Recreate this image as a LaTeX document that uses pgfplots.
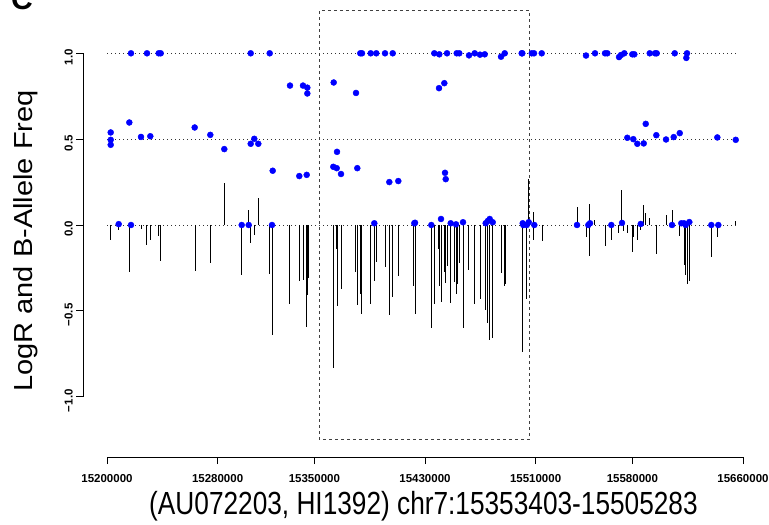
\documentclass[border=0pt]{standalone}
\usepackage{pgfplots}
\pgfplotsset{compat=1.18}
\usepackage{fontspec}
\setmainfont{Liberation Sans}
\begin{document}
\begin{tikzpicture}[x=1pt,y=1pt]
\useasboundingbox (0,0) rectangle (769,525);
\begin{axis}[
  at={(107pt,128.3pt)}, anchor=south west,
  scale only axis, width=636pt, height=343.4pt,
  xmin=15200000, xmax=15660000, ymin=-1, ymax=1,
  clip=false,
  separate axis lines,
  axis x line*=bottom, axis y line*=left,
  axis x line shift=60.3pt, axis y line shift=23.7pt,
  axis line style={line width=0.8pt, black, -},
  tick align=outside, major tick length=7pt,
  every tick/.style={black, line width=0.8pt},
  scaled x ticks=false, scaled y ticks=false,
  xtick={15200000,15280000,15350000,15430000,15510000,15580000,15660000},
  xticklabels={15200000,15280000,15350000,15430000,15510000,15580000,15660000},
  ytick={-1,-0.5,0,0.5,1},
  yticklabels={−1.0,−0.5,0.0,0.5,1.0},
  xticklabel style={font=\fontsize{11.5}{12}\selectfont\bfseries, yshift=-7pt},
  yticklabel style={font=\fontsize{11.5}{12}\selectfont\bfseries, rotate=90, anchor=south, xshift=-4pt},
]
% dotted reference lines
\addplot[black!80, line width=0.7pt, dash pattern=on 1pt off 3pt] coordinates {(15200000,1) (15656000,1)};
\addplot[black!80, line width=0.7pt, dash pattern=on 1pt off 3pt] coordinates {(15200000,0.5) (15656000,0.5)};
\addplot[black!80, line width=0.7pt, dash pattern=on 1pt off 3pt] coordinates {(15200000,0) (15656000,0)};
% LogR
\addplot[ycomb, black, line width=0.8pt] coordinates {
(15202680,-0.089) (15208460,-0.029) (15216130,-0.275) (15224810,-0.023) (15228720,-0.118)
(15231320,-0.089) (15237110,-0.062) (15238840,-0.207) (15263650,-0.267) (15274720,-0.221)
(15284840,0.246) (15297430,-0.293) (15302490,0.085) (15303940,-0.107) (15306540,-0.058)
(15309440,0.157) (15317680,-0.285) (15319340,-0.641) (15319850,-0.382) (15332150,-0.463)
(15339090,-0.326) (15341770,-0.322) (15344150,-0.595) (15345170,-0.407) (15345600,-0.306)
(15363680,-0.833) (15363970,-0.545) (15366140,-0.138) (15366360,-0.469) (15369250,-0.374)
(15379890,-0.275) (15381040,-0.465) (15383000,-0.399) (15384220,-0.516) (15390730,-0.458)
(15393340,-0.324) (15394780,-0.213) (15401080,-0.242) (15404190,-0.523) (15406650,-0.417)
(15410700,-0.295) (15421840,-0.355) (15422780,-0.517) (15434570,-0.597) (15436740,-0.461)
(15439920,-0.141) (15440350,-0.353) (15441580,-0.446) (15443970,-0.275) (15444690,-0.339)
(15445920,-0.238) (15448600,-0.455) (15451200,-0.333) (15452430,-0.401) (15453160,-0.341)
(15455110,-0.223) (15457490,-0.601) (15461620,-0.262) (15465960,-0.458) (15470010,-0.430)
(15473410,-0.223) (15473910,-0.494) (15475070,-0.568) (15476300,-0.669) (15478690,-0.661)
(15485200,-0.281) (15487660,-0.355) (15488090,-0.343) (15500170,-0.740) (15500680,-0.591)
(15503570,-0.432) (15505020,0.267) (15508490,0.077) (15508700,-0.087) (15514640,-0.095)
(15539950,0.103) (15546680,-0.072) (15548850,0.122) (15549050,-0.178) (15552750,0.029)
(15560200,-0.120) (15564540,-0.087) (15570110,-0.048) (15572280,0.203) (15573440,-0.035)
(15576620,-0.048) (15579730,-0.159) (15580950,-0.068) (15583570,-0.089) (15585520,-0.029)
(15588200,0.114) (15589640,0.070) (15592540,0.039) (15597090,-0.170) (15604330,0.058)
(15608660,0.087) (15614230,-0.064) (15617850,-0.235) (15618570,-0.291) (15619510,-0.345)
(15621180,-0.326) (15637090,-0.184) (15641720,-0.068) (15654450,0.025)
};
% B-allele frequency
\addplot[only marks, mark=*, mark size=3pt, draw=blue, fill=blue, mark options={draw=blue, fill=blue}] coordinates {
(15202680,0.539) (15202680,0.496) (15202680,0.467) (15208460,0.005) (15216130,0.597)
(15217360,1.0) (15217360,0.0) (15224590,0.513) (15228930,1.0) (15231320,0.517)
(15237400,1.0) (15238840,1.0) (15263430,0.568) (15274720,0.525) (15284840,0.442)
(15297430,0.0) (15302490,0.0) (15303940,1.0) (15303940,0.473) (15306540,0.502)
(15309440,0.473) (15317680,1.0) (15319340,0.0) (15319850,0.316) (15332360,0.812)
(15339090,0.285) (15341770,0.812) (15344440,0.292) (15344880,0.80) (15344880,0.766)
(15363680,0.339) (15363970,0.83) (15366140,0.331) (15366360,0.426) (15369250,0.297)
(15380100,0.769) (15381040,0.331) (15383210,1.0) (15384440,1.0) (15390730,1.0)
(15393340,0.01) (15394780,1.0) (15401080,1.0) (15404190,0.25) (15406650,1.0)
(15410700,0.256) (15422270,0.01) (15422780,0.013) (15434570,0.0) (15436740,1.0)
(15440140,0.797) (15440350,0.994) (15441580,0.035) (15443970,0.826) (15444480,0.304)
(15444980,0.267) (15445920,1.0) (15448600,0.01) (15452430,0.004) (15452940,1.0)
(15454820,1.0) (15457490,0.016) (15461830,0.988) (15465960,1.0) (15469790,0.992)
(15473190,0.994) (15473910,0.01) (15475360,0.023) (15476810,0.035) (15478980,0.016)
(15484980,0.98) (15487660,1.0) (15499950,1.0) (15500390,1.0) (15500680,0.01)
(15501100,0.0) (15503570,0.0) (15505020,0.016) (15507190,1.0) (15508850,1.0)
(15509070,0.0) (15514420,1.0) (15539950,0.0) (15546460,0.987) (15548120,0.0)
(15549350,0.01) (15552970,1.0) (15560200,1.0) (15561870,1.0) (15564760,0.0)
(15570330,0.978) (15571780,0.99) (15572500,0.012) (15574160,1.0) (15576330,0.508)
(15579950,0.994) (15580670,0.5) (15581400,0.994) (15583570,0.473) (15586030,0.006)
(15588200,0.475) (15589640,0.589) (15592540,1.0) (15596370,1.0) (15597310,0.523)
(15597600,1.0) (15604330,0.498) (15608660,0.0) (15609890,0.512) (15610620,1.0)
(15614230,0.535) (15615390,0.01) (15617340,0.01) (15618570,0.0) (15619010,0.973)
(15619510,1.0) (15621180,0.017) (15637090,0.0) (15641430,0.51) (15642150,0.0)
(15654740,0.496)
};
% selected region
\draw[black!75, line width=0.8pt, dash pattern=on 3pt off 3pt] (axis cs:15353403,-1.25) rectangle (axis cs:15505283,1.25);
\end{axis}
\node at (423.5,19) {\fontsize{32}{34}\selectfont\scalebox{0.82}[1]{(AU072203, HI1392) chr7:15353403-15505283}};
\node[rotate=90] at (26,284) {\fontsize{29}{31}\selectfont\scalebox{1}[0.9]{LogR and B-Allele Freq}};
\node[anchor=base west, inner sep=0pt] at (11,515) {\fontsize{30}{32}\selectfont\bfseries C};
\end{tikzpicture}
\end{document}
